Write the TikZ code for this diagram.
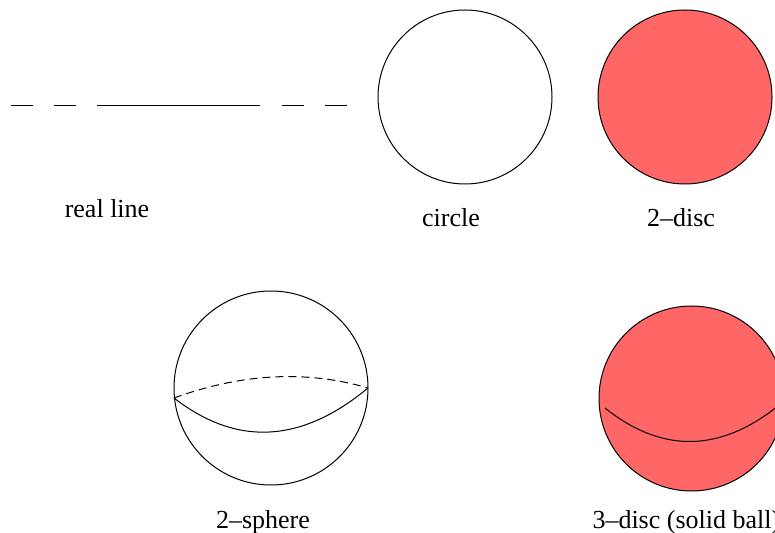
\documentclass[tikz,border=0pt]{standalone}
\usepackage{fontspec}
\setmainfont{Liberation Serif}
\definecolor{discred}{RGB}{255,102,102}
\tikzset{topo/.style={x=0.5pt,y=-0.5pt,line width=0.5pt,font=\fontsize{13}{15}\selectfont},
  lbl/.style={anchor=base,inner sep=0pt}}

\begin{document}
\begin{tikzpicture}[topo]
    \useasboundingbox (0,0) rectangle (775,533);
    % real line
    \coordinate (l0) at (11,106);
    \coordinate (l1) at (98,106);
    \coordinate (l2) at (260,106);
    \coordinate (l3) at (347,106);
    \draw[dash pattern=on 11pt off 10.5pt] (l0) -- (l1);
    \draw (l1) -- (l2);
    \draw[dash pattern=on 0pt off 11pt on 11pt off 10.5pt on 11pt off 20pt] (l2) -- (l3);
    \node[lbl] (reallbl) at (107,218) {real line};
    % circle and 2-disc
    \draw (465,97) circle (87);
    \node[lbl] (circlbl) at (451,227) {circle};
    \draw[fill=discred] (685,97) circle (87);
    \node[lbl] (disclbl) at (681,227) {2--disc};
    % 2-sphere
    \def\r{97}
    \coordinate (eqw) at (174,398);
    \coordinate (eqe) at (368,388);
    \draw (271,388) circle (\r);
    \draw (eqw) .. controls (236.7,446.7) and (301.3,443.3) .. (eqe);
    \draw[dash pattern=on 4pt off 2.5pt] (eqw) .. controls (242,373.3) and (306.7,370) .. (eqe);
    \node[lbl] (spherelbl) at (263,528) {2--sphere};
    % 3-disc
    \draw[fill=discred] (691.5,398.5) circle (92.5);
    \draw (605,408) .. controls (661.7,453.3) and (719.3,452.7) .. (778,406);
    \node[lbl,anchor=base west] (balllbl) at (592,528) {3--disc (solid ball)};
\end{tikzpicture}
\end{document}
